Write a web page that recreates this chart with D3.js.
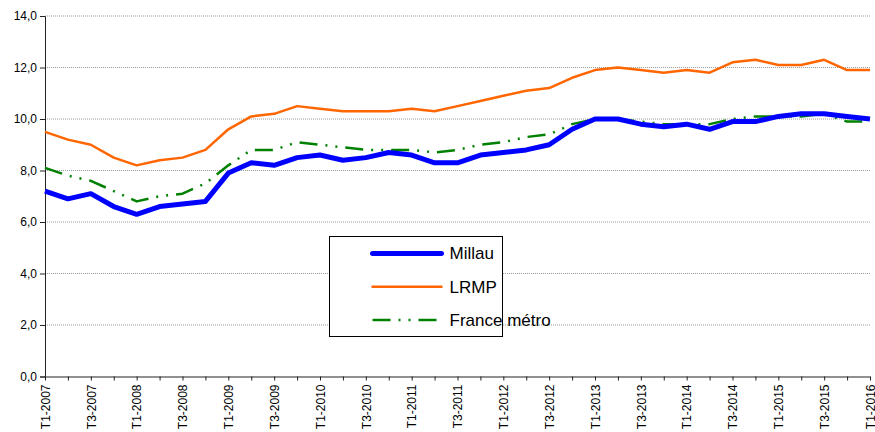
<!DOCTYPE html>
<html>
<head>
<meta charset="utf-8">
<script src="https://cdn.jsdelivr.net/npm/d3@7"></script>
<style>
  body { margin: 0; background: #fff; }
  #chart { width: 875px; height: 432px; }
  text { font-family: "Liberation Sans", Arial, sans-serif; fill: #000; }
</style>
</head>
<body>
<div id="chart"></div>
<script>
// quarters T1-2007 .. T1-2016
var quarters = [];
for (var yr = 2007; yr <= 2016; yr++) {
  for (var q = 1; q <= 4; q++) {
    if (yr === 2016 && q > 1) break;
    quarters.push("T" + q + "-" + yr);
  }
}

var millau = [7.2, 6.9, 7.1, 6.6, 6.3, 6.6, 6.7, 6.8, 7.9, 8.3, 8.2, 8.5,
  8.6, 8.4, 8.5, 8.7, 8.6, 8.3, 8.3, 8.6, 8.7, 8.8, 9.0, 9.6,
  10.0, 10.0, 9.8, 9.7, 9.8, 9.6, 9.9, 9.9, 10.1, 10.2, 10.2, 10.1, 10.0];
var lrmp = [9.5, 9.2, 9.0, 8.5, 8.2, 8.4, 8.5, 8.8, 9.6, 10.1, 10.2, 10.5,
  10.4, 10.3, 10.3, 10.3, 10.4, 10.3, 10.5, 10.7, 10.9, 11.1, 11.2, 11.6,
  11.9, 12.0, 11.9, 11.8, 11.9, 11.8, 12.2, 12.3, 12.1, 12.1, 12.3, 11.9, 11.9];
var france = [8.1, 7.8, 7.6, 7.2, 6.8, 7.0, 7.1, 7.5, 8.2, 8.8, 8.8, 9.1,
  9.0, 8.9, 8.8, 8.8, 8.8, 8.7, 8.8, 9.0, 9.1, 9.3, 9.4, 9.8,
  10.0, 10.0, 9.9, 9.8, 9.8, 9.8, 10.0, 10.1, 10.1, 10.1, 10.2, 9.9, 9.9];

var yTicks = [0, 2, 4, 6, 8, 10, 12, 14];

var series = [
  { name: "Millau", values: millau, color: "#0000ff", width: 5, dash: null },
  { name: "LRMP", values: lrmp, color: "#ff6600", width: 2.5, dash: null },
  { name: "France métro", values: france, color: "#008000", width: 2.5, dash: "18,8,2,8,2,8" }
];

var width = 875, height = 432;
var margin = { left: 45, right: 5, top: 16, bottom: 55.5 };

var svg = d3.select("#chart").append("svg")
  .attr("width", width)
  .attr("height", height);

var x = d3.scalePoint()
  .domain(quarters)
  .range([margin.left, width - margin.right]);

var y = d3.scaleLinear()
  .domain([0, 14])
  .range([height - margin.bottom, margin.top]);

var fmt = function(d) { return d3.format(".1f")(d).replace(".", ","); };

// grid lines
svg.append("g")
  .selectAll("line")
  .data(yTicks.filter(d => d > 0))
  .enter()
  .append("line")
    .attr("x1", margin.left)
    .attr("x2", width - margin.right)
    .attr("y1", d => y(d))
    .attr("y2", d => y(d))
    .attr("stroke", "#9a9a9a")
    .attr("stroke-width", 1)
    .attr("stroke-dasharray", "1,1");

// y axis
var yAxis = svg.append("g")
  .attr("transform", "translate(" + margin.left + ",0)")
  .call(d3.axisLeft(y).tickValues(yTicks).tickFormat(fmt).tickSize(5).tickPadding(3));
yAxis.selectAll("path, line").attr("stroke", "#222");
yAxis.selectAll("text").style("font-size", "12px").style("font-family", "Liberation Sans, Arial, sans-serif");

// x axis
var xAxis = svg.append("g")
  .attr("transform", "translate(0," + y(0) + ")")
  .call(d3.axisBottom(x).tickSize(4).tickSizeOuter(0)
    .tickFormat((d, i) => i % 2 === 0 ? d : ""));
xAxis.selectAll("path, line").attr("stroke", "#222");
xAxis.selectAll("text")
  .style("font-size", "12px")
  .style("font-family", "Liberation Sans, Arial, sans-serif")
  .attr("text-anchor", "end")
  .attr("transform", "rotate(-90)")
  .attr("x", -8)
  .attr("y", 0)
  .attr("dy", "0.35em");

// lines
var line = d3.line()
  .x((d, i) => x(quarters[i]))
  .y(d => y(d));

svg.append("g")
  .selectAll("path")
  .data(series.slice().reverse())
  .enter()
  .append("path")
    .attr("d", d => line(d.values))
    .attr("fill", "none")
    .attr("stroke", d => d.color)
    .attr("stroke-width", d => d.width)
    .attr("stroke-linejoin", "round")
    .attr("stroke-dasharray", d => d.dash);

// legend
var legend = svg.append("g").attr("transform", "translate(329.5,236.5)");
legend.append("rect")
  .attr("width", 173)
  .attr("height", 100)
  .attr("fill", "#fff")
  .attr("stroke", "#000")
  .attr("stroke-width", 1);

var rows = legend.selectAll("g.row")
  .data(series)
  .enter()
  .append("g")
    .attr("class", "row")
    .attr("transform", (d, i) => "translate(0," + (17 + i * 33.3) + ")");

rows.append("line")
  .attr("x1", 43)
  .attr("x2", 112)
  .attr("stroke", d => d.color)
  .attr("stroke-width", d => d.width)
  .attr("stroke-linecap", d => d.dash ? "butt" : "round")
  .attr("stroke-dasharray", d => d.dash);

rows.append("text")
  .attr("x", 120)
  .attr("dy", "0.35em")
  .style("font-size", "17px")
  .text(d => d.name);
</script>
</body>
</html>
